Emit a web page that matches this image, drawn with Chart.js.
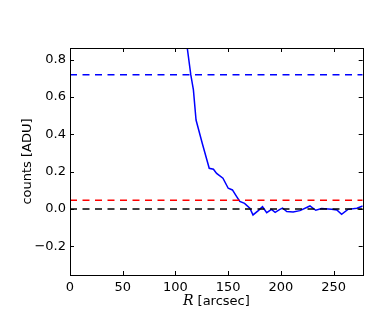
<!DOCTYPE html>
<html>
<head>
<meta charset="utf-8">
<script src="https://cdn.jsdelivr.net/npm/chart.js@4/dist/chart.umd.min.js"></script>
<style>
  html, body { margin: 0; padding: 0; background: #fff; }
  canvas { display: block; }
</style>
</head>
<body>
<canvas id="profile" width="390" height="325"></canvas>
<script>
/* ─── Data ──────────────────────────────────────── */
const radius = [108, 114.5, 117, 119.5, 125.5, 132, 136, 139, 145, 150, 154, 158, 161, 165.5,
                170.5, 173.5, 178.5, 182.5, 186.5, 191, 194.5, 199, 201.5, 205.5, 211.5, 218,
                227.5, 233, 238.5, 248, 253, 257.5, 263.5, 272, 277.5];
const counts = [1.0, 0.72, 0.638, 0.477, 0.35, 0.218, 0.213, 0.191, 0.165, 0.111, 0.102, 0.066, 0.04, 0.03,
                0.004, -0.032, -0.009, 0.012, -0.02, -0.002, -0.018, -0.002, 0.005, -0.014, -0.016, -0.009,
                0.016, -0.007, 0.002, -0.002, -0.005, -0.029, -0.002, 0.004, 0.016];

const levelValues = [0.72, 0.047, 0];
const levelColors = ['#0000ff', '#ff0000', '#000000'];

const xTicks = [0, 50, 100, 150, 200, 250];
const yTicks = [-0.2, 0, 0.2, 0.4, 0.6, 0.8];

const X_MIN = 0, X_MAX = 277.5;
const Y_MIN = -0.354, Y_MAX = 0.863;

/* ─── Frame, inward ticks, axis labels ──────────── */
const mplFrame = {
  id: 'mplFrame',
  afterDraw(chart) {
    const { ctx, chartArea: a, scales } = chart;
    ctx.save();
    ctx.strokeStyle = '#000';
    ctx.lineWidth = 1;
    ctx.beginPath();
    xTicks.forEach(v => {
      const px = Math.round(scales.x.getPixelForValue(v)) + 0.5;
      ctx.moveTo(px, a.bottom); ctx.lineTo(px, a.bottom - 4);
      ctx.moveTo(px, a.top);    ctx.lineTo(px, a.top + 4);
    });
    yTicks.forEach(v => {
      const py = Math.round(scales.y.getPixelForValue(v)) + 0.5;
      ctx.moveTo(a.left, py);  ctx.lineTo(a.left + 4, py);
      ctx.moveTo(a.right, py); ctx.lineTo(a.right - 4, py);
    });
    ctx.stroke();
    ctx.strokeRect(Math.round(a.left) + 0.5, Math.round(a.top) + 0.5,
                   Math.round(a.right - a.left), Math.round(a.bottom - a.top));

    // x label: italic R + [arcsec]
    ctx.fillStyle = '#000';
    ctx.textBaseline = 'alphabetic';
    const fR = 'italic 14px "DejaVu Serif"';
    const fS = '13px "DejaVu Sans"';
    ctx.font = fR; const wR = ctx.measureText('R').width;
    ctx.font = fS; const wS = ctx.measureText(' [arcsec]').width;
    let x0 = (a.left + a.right) / 2 - (wR + wS) / 2;
    ctx.textAlign = 'left';
    ctx.font = fR; ctx.fillText('R', x0, 305);
    ctx.font = fS; ctx.fillText(' [arcsec]', x0 + wR, 305);

    // y label
    ctx.translate(28, (a.top + a.bottom) / 2);
    ctx.rotate(-Math.PI / 2);
    ctx.textAlign = 'center';
    ctx.textBaseline = 'middle';
    ctx.fillText('counts [ADU]', 0, 0);
    ctx.restore();
  }
};

/* ─── Chart ─────────────────────────────────────── */
const levelSets = levelValues.map((v, i) => ({
  data: [{ x: X_MIN, y: v }, { x: X_MAX, y: v }],
  borderColor: levelColors[i],
  borderWidth: 1.5,
  borderDash: [7, 5.5],
  pointRadius: 0,
  showLine: true,
  clip: 0
}));

new Chart(document.getElementById('profile'), {
  type: 'scatter',
  data: {
    datasets: [
      ...levelSets,
      {
        data: radius.map((r, i) => ({ x: r, y: counts[i] })),
        borderColor: '#0000ff',
        borderWidth: 1.5,
        pointRadius: 0,
        showLine: true,
        tension: 0,
        clip: 0
      }
    ]
  },
  options: {
    responsive: false,
    animation: false,
    layout: { padding: { top: 48, right: 27.3, left: 0, bottom: 0 } },
    plugins: { legend: { display: false }, tooltip: { enabled: false } },
    scales: {
      x: {
        type: 'linear', min: X_MIN, max: X_MAX,
        afterBuildTicks: s => { s.ticks = xTicks.map(v => ({ value: v })); },
        afterFit: s => { s.height = 50; },
        grid: { display: false, drawTicks: false }, border: { display: false },
        ticks: { color: '#000', padding: 5, maxRotation: 0,
                 font: { family: 'DejaVu Sans', size: 13 } }
      },
      y: {
        type: 'linear', min: Y_MIN, max: Y_MAX,
        afterBuildTicks: s => { s.ticks = yTicks.map(v => ({ value: v })); },
        afterFit: s => { s.width = 70; },
        grid: { display: false, drawTicks: false }, border: { display: false },
        ticks: { color: '#000', padding: 4,
                 font: { family: 'DejaVu Sans', size: 13 },
                 callback: v => (v < 0 ? '\u2212' : '') + Math.abs(v).toFixed(1) }
      }
    }
  },
  plugins: [mplFrame]
});
</script>
</body>
</html>
